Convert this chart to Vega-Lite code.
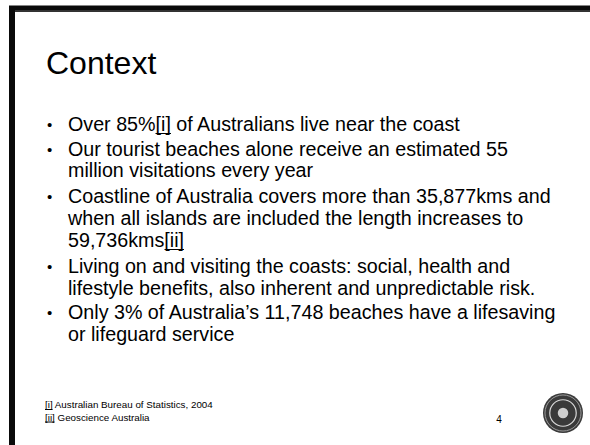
{
  "$schema": "https://vega.github.io/schema/vega-lite/v6.json",
  "usermeta": {"embedOptions": {"actions": false}},
  "width": 590,
  "height": 445,
  "padding": 0,
  "autosize": {"type": "none"},
  "background": "#ffffff",
  "config": {"view": {"stroke": null}},
  "datasets": {
    "frame": [
      {"part": "top", "x": 9, "x2": 590, "y": 8.5, "y2": 8.5},
      {"part": "left", "x": 12, "x2": 12, "y": 6, "y2": 445}
    ],
    "frameInner": [
      {"part": "top", "x": 15, "x2": 590, "y": 11, "y2": 11}
    ],
    "title": [{"x": 46, "y": 74, "t": "Context"}],
    "bullets": [
      {"x": 47, "y": 130, "t": "•"},
      {"x": 47, "y": 154.5, "t": "•"},
      {"x": 47, "y": 202, "t": "•"},
      {"x": 47, "y": 272, "t": "•"},
      {"x": 47, "y": 318, "t": "•"}
    ],
    "lines": [
      {"x": 68, "y": 131, "t": "Over 85%[i] of Australians live near the coast"},
      {"x": 68, "y": 155.5, "t": "Our tourist beaches alone receive an estimated 55"},
      {"x": 68, "y": 177, "t": "million visitations every year"},
      {"x": 68, "y": 203, "t": "Coastline of Australia covers more than 35,877kms and"},
      {"x": 68, "y": 225, "t": "when all islands are included the length increases to"},
      {"x": 68, "y": 247, "t": "59,736kms[ii]"},
      {"x": 68, "y": 273, "t": "Living on and visiting the coasts: social, health and"},
      {"x": 68, "y": 294.5, "t": "lifestyle benefits, also inherent and unpredictable risk."},
      {"x": 68, "y": 319, "t": "Only 3% of Australia’s 11,748 beaches have a  lifesaving"},
      {"x": 68, "y": 341, "t": "or lifeguard service"}
    ],
    "underlines": [
      {"x": 155.5, "x2": 171, "y": 133.5, "y2": 133.5},
      {"x": 164.5, "x2": 184, "y": 249.5, "y2": 249.5},
      {"x": 45, "x2": 52.5, "y": 409.5, "y2": 409.5},
      {"x": 45, "x2": 54.5, "y": 422, "y2": 422}
    ],
    "notes": [
      {"x": 45, "y": 408, "t": "[i] Australian Bureau of Statistics, 2004"},
      {"x": 45, "y": 420.5, "t": "[ii] Geoscience Australia"}
    ],
    "page": [{"x": 499, "y": 423, "t": "4"}],
    "logo": [{"x": 563, "y": 413}]
  },
  "encoding": {
    "x": {"field": "x", "type": "quantitative", "scale": {"domain": [0, 590], "nice": false, "zero": false}, "axis": null},
    "y": {"field": "y", "type": "quantitative", "scale": {"domain": [0, 445], "nice": false, "zero": false, "reverse": true}, "axis": null}
  },
  "layer": [
    {
      "data": {"name": "frame"},
      "mark": {"type": "rule", "color": "#0a0a0a", "strokeWidth": 6},
      "encoding": {"x2": {"field": "x2"}, "y2": {"field": "y2"}}
    },
    {
      "data": {"name": "frameInner"},
      "mark": {"type": "rule", "color": "#333333", "strokeWidth": 2},
      "encoding": {"x2": {"field": "x2"}, "y2": {"field": "y2"}}
    },
    {
      "data": {"name": "title"},
      "mark": {"type": "text", "align": "left", "baseline": "alphabetic", "font": "Liberation Sans", "fontSize": 32, "color": "#000000"},
      "encoding": {"text": {"field": "t"}}
    },
    {
      "data": {"name": "bullets"},
      "mark": {"type": "text", "align": "left", "baseline": "alphabetic", "font": "Liberation Sans", "fontSize": 15, "color": "#000000"},
      "encoding": {"text": {"field": "t"}}
    },
    {
      "data": {"name": "lines"},
      "mark": {"type": "text", "align": "left", "baseline": "alphabetic", "font": "Liberation Sans", "fontSize": 19.7, "color": "#000000"},
      "encoding": {"text": {"field": "t"}}
    },
    {
      "data": {"name": "underlines"},
      "mark": {"type": "rule", "color": "#000000", "strokeWidth": 1},
      "encoding": {"x2": {"field": "x2"}, "y2": {"field": "y2"}}
    },
    {
      "data": {"name": "notes"},
      "mark": {"type": "text", "align": "left", "baseline": "alphabetic", "font": "Liberation Sans", "fontSize": 9.8, "color": "#000000"},
      "encoding": {"text": {"field": "t"}}
    },
    {
      "data": {"name": "page"},
      "mark": {"type": "text", "align": "center", "baseline": "alphabetic", "font": "Liberation Sans", "fontSize": 10, "color": "#000000"},
      "encoding": {"text": {"field": "t"}}
    },
    {
      "data": {"name": "logo"},
      "mark": {"type": "point", "shape": "circle", "filled": true, "color": "#3a3a3a", "opacity": 1, "size": 1600}
    },
    {
      "data": {"name": "logo"},
      "mark": {"type": "point", "shape": "circle", "filled": false, "stroke": "#d8d8d8", "strokeWidth": 1.2, "opacity": 1, "size": 700}
    },
    {
      "data": {"name": "logo"},
      "mark": {"type": "point", "shape": "circle", "filled": false, "stroke": "#9a9a9a", "strokeWidth": 1, "opacity": 1, "size": 1300}
    },
    {
      "data": {"name": "logo"},
      "mark": {"type": "point", "shape": "circle", "filled": true, "color": "#cfcfcf", "opacity": 1, "size": 110, "dx": 1, "dy": 1}
    }
  ]
}
